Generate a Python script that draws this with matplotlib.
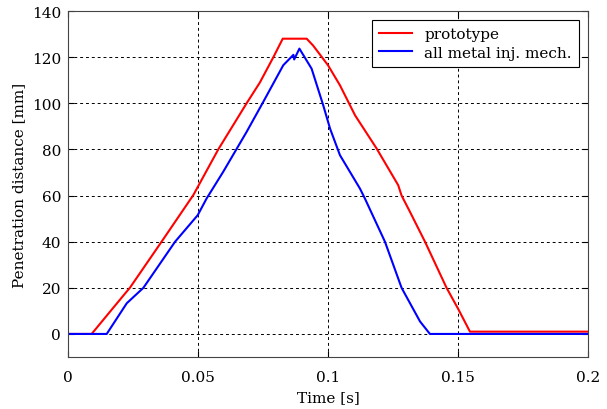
import matplotlib.pyplot as plt
import numpy as np

plt.rcParams['font.family'] = ['DejaVu Serif']

# prototype (red)
t_proto = [0.0, 0.0091, 0.0162, 0.0226, 0.0238, 0.036, 0.0482, 0.0578, 0.0687, 0.0738,
           0.079, 0.0826, 0.0918, 0.0943, 0.1, 0.1046, 0.1104, 0.1187, 0.127, 0.1283,
           0.1315, 0.1373, 0.1456, 0.150, 0.1546, 0.2]
d_proto = [0.0, 0.0, 9.7, 18.4, 20.0, 40.0, 60.2, 80.0, 100.0, 109.0,
           120.0, 128.0, 128.0, 125.0, 116.5, 107.8, 94.8, 80.4, 64.5, 60.0,
           53.0, 40.0, 20.0, 11.0, 1.0, 1.0]

# all metal injection mechanism (blue)
t_metal = [0.0, 0.0149, 0.0226, 0.029, 0.0412, 0.0499, 0.0533, 0.0597, 0.0687, 0.0751,
           0.0828, 0.0867, 0.087, 0.089, 0.0937, 0.0982, 0.1008, 0.1046, 0.1123, 0.1142,
           0.1219, 0.1283, 0.1354, 0.1392, 0.2]
d_metal = [0.0, 0.0, 13.3, 20.0, 40.0, 51.5, 58.7, 70.3, 87.6, 100.6,
           116.5, 121.0, 119.0, 123.7, 115.0, 99.0, 89.0, 77.5, 63.0, 58.7,
           40.0, 20.0, 5.4, 0.0, 0.0]

fig = plt.figure(figsize=(6.07, 4.10), dpi=100)
ax = fig.add_axes([0.112, 0.1268, 0.8567, 0.8439])

ax.plot(t_proto, d_proto, color='red', linewidth=1.5, label='prototype')
ax.plot(t_metal, d_metal, color='blue', linewidth=1.5, label='all metal inj. mech.')

ax.set_xlim(0, 0.2)
ax.set_ylim(-10, 140)
ax.set_xticks([0, 0.05, 0.1, 0.15, 0.2])
ax.set_xticklabels(['0', '0.05', '0.1', '0.15', '0.2'])
ax.set_yticks(np.arange(0, 141, 20))
ax.grid(True, color='black', linestyle=(0, (3, 3)), linewidth=0.7)
ax.tick_params(direction='in', top=True, right=True, labelsize=11, length=4, pad=5)
ax.tick_params(axis='x', pad=9)
for s in ax.spines.values():
    s.set_color('#444444')

ax.set_xlabel('Time [s]', fontsize=11, labelpad=5)
ax.set_ylabel('Penetration distance [mm]', fontsize=11, labelpad=4)

leg = ax.legend(loc='upper right', fontsize=11, fancybox=False, framealpha=1,
                edgecolor='black', borderaxespad=0.6, handlelength=2.2,
                borderpad=0.45, labelspacing=0.3)
leg.get_frame().set_linewidth(0.8)

fig.savefig('out.png', dpi=100)
